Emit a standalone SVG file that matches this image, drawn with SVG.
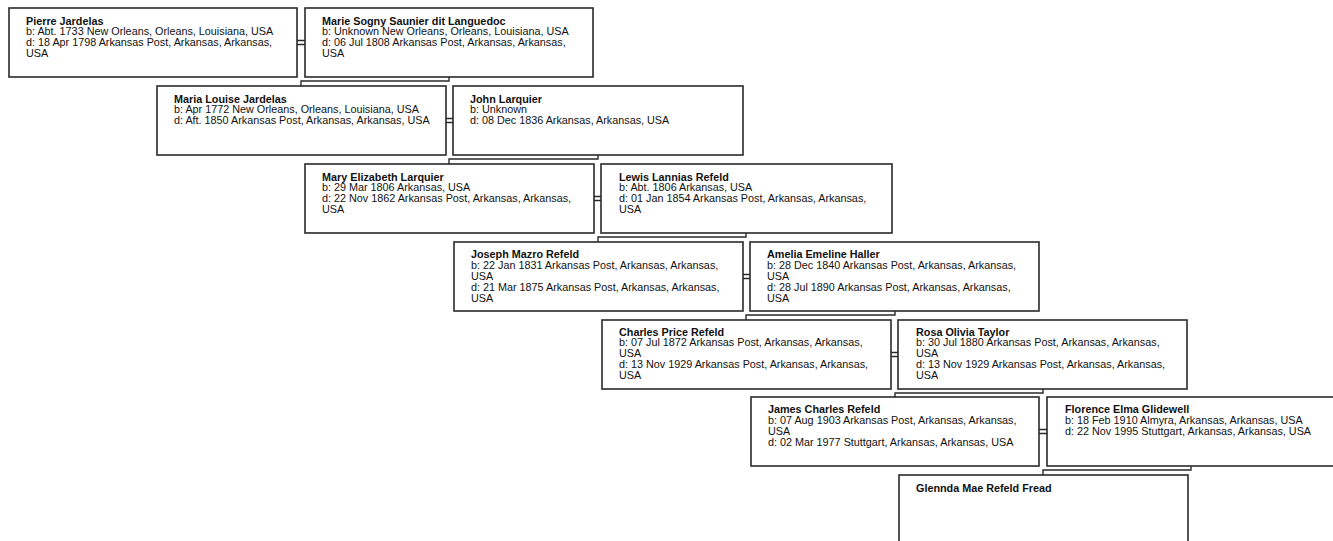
<svg xmlns="http://www.w3.org/2000/svg" width="1333" height="541" viewBox="0 0 1333 541">
<style>
.box{fill:#fff;stroke:#2a2a2a;stroke-width:1.6}
.ln{fill:none;stroke:#2a2a2a;stroke-width:1.4}
text{font-family:"Liberation Sans",Arial,sans-serif;font-size:10.8px;fill:#111}
.nm{font-weight:bold}
</style>
<rect width="1333" height="541" fill="#fff"/>
<g id="connectors">
<path class="ln" d="M297,40.5H305M297,44.5H305"/>
<path class="ln" d="M449,77V81H301V86"/>
<path class="ln" d="M446,118.5H453M446,122.5H453"/>
<path class="ln" d="M598,155V159H449V164"/>
<path class="ln" d="M594,196.5H601M594,200.5H601"/>
<path class="ln" d="M746,233V237H598V242"/>
<path class="ln" d="M743,274.5H750M743,278.5H750"/>
<path class="ln" d="M895,311V315H746V320"/>
<path class="ln" d="M891,352.5H898M891,356.5H898"/>
<path class="ln" d="M1043,389V393H895V397"/>
<path class="ln" d="M1039,429.5H1047M1039,433.5H1047"/>
<path class="ln" d="M1191,466V470H1043V475"/>
</g>
<g id="n1"><rect class="box" x="9" y="8" width="288" height="69"/>
<text x="26" y="24.5"><tspan class="nm">Pierre Jardelas</tspan><tspan x="26" dy="10.9">b: Abt. 1733 New Orleans, Orleans, Louisiana, USA</tspan><tspan x="26" dy="10.9">d: 18 Apr 1798 Arkansas Post, Arkansas, Arkansas,</tspan><tspan x="26" dy="10.9">USA</tspan></text></g>
<g id="n2"><rect class="box" x="305" y="8" width="288" height="69"/>
<text x="322" y="24.5"><tspan class="nm">Marie Sogny Saunier dit Languedoc</tspan><tspan x="322" dy="10.9">b: Unknown New Orleans, Orleans, Louisiana, USA</tspan><tspan x="322" dy="10.9">d: 06 Jul 1808 Arkansas Post, Arkansas, Arkansas,</tspan><tspan x="322" dy="10.9">USA</tspan></text></g>
<g id="n3"><rect class="box" x="157" y="86" width="289" height="69"/>
<text x="174" y="102.5"><tspan class="nm">Maria Louise Jardelas</tspan><tspan x="174" dy="10.9">b: Apr 1772 New Orleans, Orleans, Louisiana, USA</tspan><tspan x="174" dy="10.9">d: Aft. 1850 Arkansas Post, Arkansas, Arkansas, USA</tspan></text></g>
<g id="n4"><rect class="box" x="453" y="86" width="290" height="69"/>
<text x="470" y="102.5"><tspan class="nm">John Larquier</tspan><tspan x="470" dy="10.9">b: Unknown</tspan><tspan x="470" dy="10.9">d: 08 Dec 1836 Arkansas, Arkansas, USA</tspan></text></g>
<g id="n5"><rect class="box" x="305" y="164" width="289" height="69"/>
<text x="322" y="180.5"><tspan class="nm">Mary Elizabeth Larquier</tspan><tspan x="322" dy="10.9">b: 29 Mar 1806 Arkansas, USA</tspan><tspan x="322" dy="10.9">d: 22 Nov 1862 Arkansas Post, Arkansas, Arkansas,</tspan><tspan x="322" dy="10.9">USA</tspan></text></g>
<g id="n6"><rect class="box" x="601" y="164" width="291" height="69"/>
<text x="619" y="180.5"><tspan class="nm">Lewis Lannias Refeld</tspan><tspan x="619" dy="10.9">b: Abt. 1806 Arkansas, USA</tspan><tspan x="619" dy="10.9">d: 01 Jan 1854 Arkansas Post, Arkansas, Arkansas,</tspan><tspan x="619" dy="10.9">USA</tspan></text></g>
<g id="n7"><rect class="box" x="454" y="242" width="289" height="69"/>
<text x="471" y="258"><tspan class="nm">Joseph Mazro Refeld</tspan><tspan x="471" dy="10.9">b: 22 Jan 1831 Arkansas Post, Arkansas, Arkansas,</tspan><tspan x="471" dy="10.9">USA</tspan><tspan x="471" dy="10.9">d: 21 Mar 1875 Arkansas Post, Arkansas, Arkansas,</tspan><tspan x="471" dy="10.9">USA</tspan></text></g>
<g id="n8"><rect class="box" x="750" y="242" width="289" height="69"/>
<text x="767" y="258"><tspan class="nm">Amelia Emeline Haller</tspan><tspan x="767" dy="10.9">b: 28 Dec 1840 Arkansas Post, Arkansas, Arkansas,</tspan><tspan x="767" dy="10.9">USA</tspan><tspan x="767" dy="10.9">d: 28 Jul 1890 Arkansas Post, Arkansas, Arkansas,</tspan><tspan x="767" dy="10.9">USA</tspan></text></g>
<g id="n9"><rect class="box" x="602" y="320" width="289" height="69"/>
<text x="619" y="335.5"><tspan class="nm">Charles Price Refeld</tspan><tspan x="619" dy="10.9">b: 07 Jul 1872 Arkansas Post, Arkansas, Arkansas,</tspan><tspan x="619" dy="10.9">USA</tspan><tspan x="619" dy="10.9">d: 13 Nov 1929 Arkansas Post, Arkansas, Arkansas,</tspan><tspan x="619" dy="10.9">USA</tspan></text></g>
<g id="n10"><rect class="box" x="898" y="320" width="289" height="69"/>
<text x="916" y="335.5"><tspan class="nm">Rosa Olivia Taylor</tspan><tspan x="916" dy="10.9">b: 30 Jul 1880 Arkansas Post, Arkansas, Arkansas,</tspan><tspan x="916" dy="10.9">USA</tspan><tspan x="916" dy="10.9">d: 13 Nov 1929 Arkansas Post, Arkansas, Arkansas,</tspan><tspan x="916" dy="10.9">USA</tspan></text></g>
<g id="n11"><rect class="box" x="751" y="397" width="288" height="69"/>
<text x="768" y="413"><tspan class="nm">James Charles Refeld</tspan><tspan x="768" dy="10.9">b: 07 Aug 1903 Arkansas Post, Arkansas, Arkansas,</tspan><tspan x="768" dy="10.9">USA</tspan><tspan x="768" dy="10.9">d: 02 Mar 1977 Stuttgart, Arkansas, Arkansas, USA</tspan></text></g>
<g id="n12"><rect class="box" x="1047" y="397" width="290" height="69"/>
<text x="1065" y="413"><tspan class="nm">Florence Elma Glidewell</tspan><tspan x="1065" dy="10.9">b: 18 Feb 1910 Almyra, Arkansas, Arkansas, USA</tspan><tspan x="1065" dy="10.9">d: 22 Nov 1995 Stuttgart, Arkansas, Arkansas, USA</tspan></text></g>
<g id="n13"><rect class="box" x="899" y="475" width="289" height="80"/>
<text x="916" y="491.5"><tspan class="nm">Glennda Mae Refeld Fread</tspan></text></g>
</svg>
